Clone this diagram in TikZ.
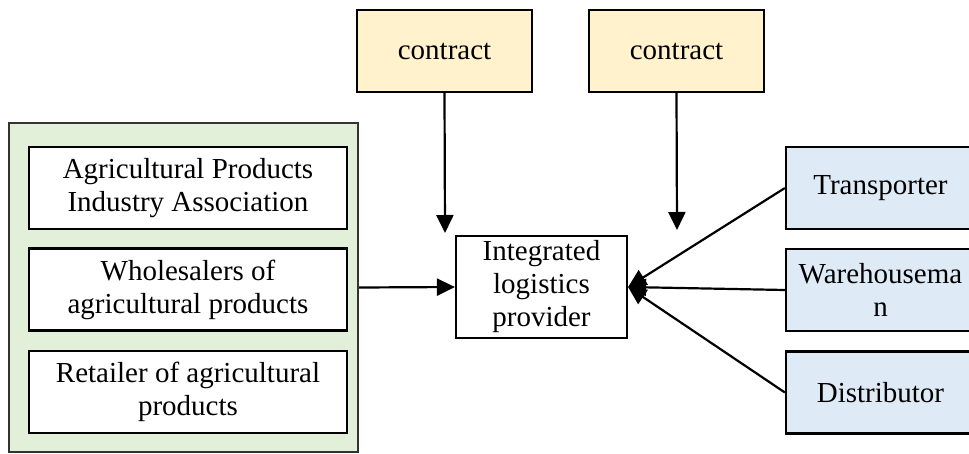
\documentclass[tikz,border=0pt]{standalone}
\usepackage{fontspec}
\setmainfont{Liberation Serif}[Ligatures=TeX]
\newfontfamily\tnr{Liberation Serif}
\usetikzlibrary{arrows.meta}
\definecolor{cyellow}{HTML}{FFF2CC}
\definecolor{cgreen}{HTML}{E2EFD9}
\definecolor{cblue}{HTML}{DEEBF7}
\begin{document}
\begin{tikzpicture}[x=1pt,y=-1pt,
  every node/.style={font=\tnr\fontsize{29}{33}\selectfont, align=center, inner sep=0pt},
  boxx/.style={draw=black, line width=2.2pt, rectangle},
  contractbox/.style={boxx, fill=cyellow, minimum width=175pt, minimum height=82pt},
  innerbox/.style={boxx, fill=white, minimum width=318pt, minimum height=82pt},
  rightbox/.style={boxx, fill=cblue, minimum width=189pt, minimum height=82pt},
  arr/.style={line width=2.2pt, -{Triangle[width=17pt,length=18pt]}}]
\useasboundingbox (0,0) rectangle (969,453);
\node[boxx, draw=black!80, fill=cgreen, minimum width=349pt, minimum height=329pt] (grp) at (183.5,287.5) {};
\node[innerbox] (assoc) at (188,188) {Agricultural Products\\Industry Association};
\node[innerbox] (whole) at (188,289.5) {Wholesalers of\\agricultural products};
\node[innerbox] (retail) at (188,392) {Retailer of agricultural\\products};
\node[contractbox] (c1) at (444.5,51) {contract};
\node[contractbox] (c2) at (676.5,51) {contract};
\node[boxx, fill=white, minimum width=171pt, minimum height=102pt] (ilp) at (541.5,287) {Integrated\\logistics\\provider};
\node[rightbox] (tr) at (880.5,188) {Transporter};
\node[rightbox] (wh) at (880.5,290) {Warehousema\\n};
\node[rightbox] (di) at (880.5,392.5) {Distributor};
\coordinate (e1) at (445,233);
\coordinate (e2) at (677,230);
\draw[arr] (c1.south) -- (e1);
\draw[arr] (c2.south) -- (e2);
\draw[arr] (grp.east) -- (ilp.west);
\draw[arr] (tr.west) -- (ilp.east);
\draw[arr] (wh.west) -- (ilp.east);
\draw[arr] (di.west) -- (ilp.east);
\end{tikzpicture}
\end{document}
